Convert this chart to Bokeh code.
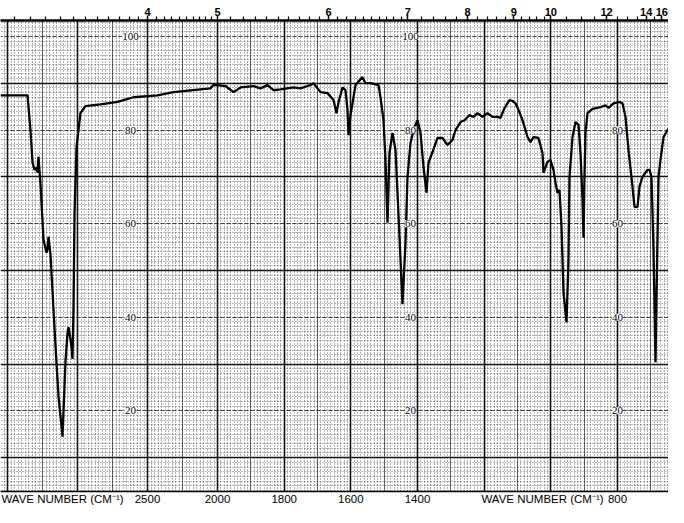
import numpy as np
from bokeh.plotting import figure
from bokeh.models import Range1d, LinearAxis, FixedTicker, Grid, ColumnDataSource, LabelSet
from bokeh.embed import file_html
from bokeh.resources import INLINE

# ---------------- data ----------------
wavenumber = [
    3550, 3493, 3357, 3336, 3321, 3307, 3293, 3286, 3279, 3264, 3243,
    3221, 3214, 3207, 3193, 3157, 3136, 3107, 3100, 3086, 3071,
    3064, 3043, 3036, 3029, 3021, 3007, 2979, 2943, 2836, 2714,
    2600, 2429, 2314, 2121, 2050, 2029, 2000,
    1976, 1952, 1931, 1892, 1871, 1850, 1832, 1811, 1772, 1751,
    1730, 1721, 1712, 1691, 1670, 1652, 1643, 1637, 1625, 1616,
    1610, 1607, 1601, 1595, 1586, 1565, 1556, 1541, 1517, 1511,
    1502, 1496, 1490, 1484, 1475, 1466, 1460, 1451, 1445, 1436,
    1430, 1421, 1412, 1400, 1391, 1382, 1373, 1367, 1355, 1340,
    1325, 1310, 1295, 1286, 1271, 1259, 1244, 1232, 1220, 1205,
    1190, 1175, 1160, 1151, 1139, 1124, 1115, 1106, 1097, 1085,
    1070, 1061, 1052, 1037, 1025, 1022, 1010, 1001, 992, 986,
    980, 974, 968, 962, 953, 947, 944, 935, 926, 917,
    911, 905, 902, 899, 896, 890, 875, 851, 836, 827,
    812, 794, 785, 776, 767, 755, 749, 740, 734, 725,
    710, 704, 698, 692, 686, 683, 677, 671, 662, 650,
    638, 626, 611,
]
transmittance = [
    87.4, 87.4, 87.4, 80.0, 73.0, 71.5, 71.9, 70.9, 74.3, 68.3, 56.6,
    53.8, 54.5, 57.2, 53.4, 33.8, 23.2, 14.5, 19.8, 30.4, 36.8,
    37.9, 33.8, 31.1, 41.1, 62.3, 76.4, 83.6, 85.1, 85.5, 86.0,
    87.0, 87.4, 88.1, 88.7, 88.9, 89.6, 89.6,
    89.4, 88.1, 89.1, 89.4, 88.9, 89.6, 88.5, 88.7, 89.1, 88.9,
    89.4, 89.6, 90.0, 88.1, 87.9, 86.4, 83.6, 85.9, 89.1, 88.5,
    84.3, 78.9, 83.2, 85.7, 89.6, 91.3, 90.0, 90.0, 89.6, 87.0,
    82.1, 73.6, 60.2, 75.1, 79.4, 75.7, 66.6, 52.3, 42.8, 56.0,
    70.0, 77.2, 80.0, 82.1, 79.4, 72.1, 66.6, 73.0, 75.3, 78.3,
    78.3, 76.8, 77.9, 80.0, 81.7, 82.1, 83.2, 82.8, 83.6, 82.8,
    83.6, 82.8, 82.8, 82.6, 84.7, 86.4, 86.2, 85.7, 84.3, 82.1,
    78.5, 77.4, 78.5, 78.3, 75.1, 70.9, 73.2, 73.6, 71.5, 68.7,
    66.6, 67.2, 59.4, 45.3, 38.9, 52.3, 70.0, 78.5, 81.7, 81.1,
    75.1, 65.1, 57.0, 70.0, 79.4, 83.6, 84.5, 84.9, 85.3, 84.7,
    85.7, 86.0, 85.7, 82.8, 75.7, 67.9, 63.6, 63.6, 67.9, 70.0,
    71.5, 71.5, 70.0, 54.5, 30.4, 43.8, 70.0, 73.6, 78.5, 80.0,
    80.6, 79.6, 76.4,
]

wavenumber_ticks = [2500, 2000, 1800, 1600, 1400, 800]
axis_title = "WAVE NUMBER (CM\u207b\u00b9)"
axis_title_at = [3107, 1025]          # wavenumbers where the title is printed
micron_labels = [4, 5, 6, 7, 8, 9, 10, 12, 14, 16]
percent_labels = [100, 80, 60, 40, 20]
percent_label_columns = [2621, 1421, 800]   # wavenumbers of the printed %T columns

# ---------------- chart scale: 4000-2000 cm-1 region is compressed ----------------
SPLIT = 2000.0
COMP = 0.42
W_LEFT, W_RIGHT = 3550, 647
T_LOW, T_HIGH = 2.77, 103.4


def u_of(w):
    w = np.asarray(w, dtype=float)
    return np.where(w > SPLIT, SPLIT + (w - SPLIT) * COMP, w)


def ui(w):
    return int(round(float(u_of(w))))


FONT = "Liberation Sans"
U_LEFT, U_RIGHT = float(u_of(W_LEFT)), float(u_of(W_RIGHT))

p = figure(width=668, height=507,
           x_range=Range1d(U_LEFT, U_RIGHT),
           y_range=Range1d(T_LOW, T_HIGH),
           output_backend="svg", toolbar_location=None,
           x_axis_location=None, y_axis_location=None,
           min_border_left=0, min_border_right=0,
           min_border_top=20, min_border_bottom=14)
p.grid.visible = False
p.outline_line_color = None
p.background_fill_color = "white"
p.border_fill_color = "white"


def add_grid(dim, ticks, alpha, width, dash="solid"):
    g = Grid(dimension=dim, ticker=FixedTicker(ticks=[float(t) for t in ticks]),
             grid_line_color="black", grid_line_alpha=alpha,
             grid_line_width=width, grid_line_dash=dash)
    p.add_layout(g)


# vertical grid
v_minor = list(range(650, 2000, 10)) + list(range(2025, 3550, 25))
v_mid = list(range(700, 2000, 100)) + [2250, 2750, 3250]
v_major = list(range(800, 2001, 200)) + [2500, 3000, 3500]
add_grid(0, u_of(v_minor), 0.6, 1, "1 2")
add_grid(0, u_of(v_mid), 0.55, 1)
add_grid(0, u_of(v_major), 0.9, 1.6)
# horizontal grid
add_grid(1, range(3, 104, 1), 0.55, 1, "1 2")
add_grid(1, [20, 40, 60, 80, 100], 0.65, 1, "4 2")
add_grid(1, [10, 30, 50, 70, 90], 0.9, 1.6)

# spectrum
p.line(u_of(wavenumber), transmittance, line_color="black", line_width=2.3)

# %T labels printed inside the chart
lx, ly, lt = [], [], []
for col in percent_label_columns:
    for v in percent_labels:
        if v == 100 and col == percent_label_columns[-1]:
            continue
        lx.append(float(u_of(col)))
        ly.append(v)
        lt.append(str(v))
labels = LabelSet(x="x", y="y", text="t", source=ColumnDataSource(dict(x=lx, y=ly, t=lt)),
                  text_align="center", text_baseline="middle", text_font=FONT,
                  text_font_size="11px", text_color="black",
                  background_fill_color="white")
p.add_layout(labels)

# bottom axis: wavenumber
bt = [ui(w) for w in wavenumber_ticks] + [ui(w) for w in axis_title_at]
overrides = {ui(w): str(w) for w in wavenumber_ticks}
for w in axis_title_at:
    overrides[ui(w)] = axis_title
bottom = LinearAxis(ticker=FixedTicker(ticks=bt), major_label_overrides=overrides,
                    major_tick_out=0, major_tick_in=0, minor_tick_out=0, minor_tick_in=0,
                    major_label_standoff=1, axis_line_color="black", axis_line_width=1.5,
                    major_label_text_font=FONT, major_label_text_font_size="11.5px",
                    major_label_text_color="black")
p.add_layout(bottom, "below")

# top axis: wavelength in microns; the 16 um mark lies just past the trimmed
# right edge, so its label is printed flush against that edge
top_major = [ui(10000.0 / m) for m in micron_labels if 10000.0 / m >= W_RIGHT]
top_over = {ui(10000.0 / m): str(m) for m in micron_labels if 10000.0 / m >= W_RIGHT}
edge_tick = int(round(U_RIGHT + 20))
for m in micron_labels:
    if 10000.0 / m < W_RIGHT:
        top_major.append(edge_tick)
        top_over[edge_tick] = str(m)
minor_um = ([round(2.8 + 0.1 * i, 2) for i in range(43)] +
            [round(7.0 + 0.2 * i, 2) for i in range(1, 16)] +
            [round(10.0 + 0.5 * i, 2) for i in range(1, 13)])
top_minor = [ui(10000.0 / m) for m in minor_um if m not in micron_labels]
top = LinearAxis(ticker=FixedTicker(ticks=top_major, minor_ticks=top_minor),
                 major_label_overrides=top_over,
                 major_tick_out=5, major_tick_in=0, minor_tick_out=4, minor_tick_in=0,
                 major_tick_line_width=1.5, minor_tick_line_width=1.2,
                 major_label_standoff=0, axis_line_color="black", axis_line_width=2.5,
                 major_label_text_font=FONT, major_label_text_font_size="11px",
                 major_label_text_font_style="bold", major_label_text_color="black")
p.add_layout(top, "above")

open("out.html", "w").write(file_html(p, INLINE))
